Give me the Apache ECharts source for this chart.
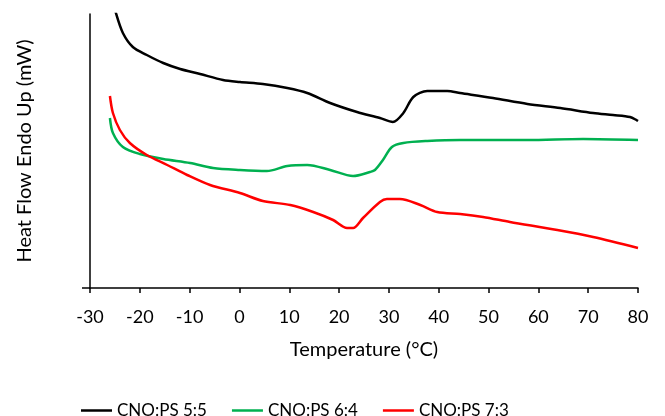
<!DOCTYPE html>
<html>
<head>
<meta charset="utf-8">
<script src="https://cdn.jsdelivr.net/npm/echarts@6/dist/echarts.min.js"></script>
<style>
  html, body { margin: 0; padding: 0; background: #fff; }
  #chart { width: 665px; height: 416px; }
</style>
</head>
<body>
<div id="chart"></div>
<script>
'use strict';
/* DSC curves, heat flow endo up (arbitrary offset units) */

var seriesNames = ['CNO:PS 5:5', 'CNO:PS 6:4', 'CNO:PS 7:3'];
var seriesColors = ['#000000', '#00B050', '#FF0000'];

var ps55 = [
  [-25.6, 292], [-24.8, 275], [-23.4, 255], [-21.4, 241], [-18.6, 233], [-15.3, 225],
  [-11.9, 219], [-7.9, 214], [-3.3, 208], [0.1, 206], [4.7, 204], [9.6, 200],
  [13.6, 195], [18.2, 185], [23.6, 176], [28.2, 170], [30.8, 166], [32.9, 175],
  [34.9, 191], [37.7, 197], [41.7, 197], [44.3, 195], [50.9, 190], [57.8, 184],
  [64.4, 180], [71.0, 175], [75.0, 173], [78.4, 171], [80, 167]
];

var ps64 = [
  [-26.0, 170], [-25.4, 155], [-23.4, 141], [-20.0, 134], [-15.3, 129], [-9.9, 125],
  [-5.3, 120], [0.1, 118], [5.5, 117], [9.6, 122], [13.6, 123], [18.2, 118],
  [22.8, 112], [26.2, 116], [27.2, 118], [28.8, 128], [30.6, 141], [32.9, 145],
  [37.7, 147], [44.3, 148], [57.8, 148], [69.0, 149], [80, 148]
];

var ps73 = [
  [-26.0, 192], [-25.4, 175], [-24.0, 158], [-22.0, 145], [-18.6, 133], [-14.5, 123],
  [-10.5, 113], [-5.9, 103], [0.1, 95], [4.7, 87], [10.2, 83], [14.8, 76],
  [18.8, 68], [21.6, 60], [22.8, 60], [24.8, 70], [28.2, 86], [29.6, 89],
  [32.2, 89], [36.3, 83], [39.7, 76], [44.3, 74], [48.9, 71], [54.3, 66],
  [63.8, 58], [71.0, 51], [80, 40]
];

var xMin = -30, xMax = 80, xStep = 10;
var yMin = 0, yMax = 274;

var font = 'Lato, "Liberation Sans", sans-serif';
var chart = echarts.init(document.getElementById('chart'));

function makeLine(i, data) {
  return {
    name: seriesNames[i],
    type: 'line',
    data: data,
    symbol: 'none',
    smooth: 0.3,
    clip: true,
    lineStyle: { color: seriesColors[i], width: 2.5 },
    itemStyle: { color: seriesColors[i] }
  };
}

var option = {
  animation: false,
  backgroundColor: '#ffffff',
  textStyle: { fontFamily: font },
  grid: { left: 90, right: 27, top: 14, bottom: 128, containLabel: false },
  legend: {
    top: 397,
    left: 76,
    icon: 'rect',
    itemWidth: 31,
    itemHeight: 2.5,
    itemGap: 25,
    textStyle: { fontFamily: font, fontSize: 17, color: '#000' },
    data: seriesNames
  },
  xAxis: {
    type: 'value',
    min: xMin,
    max: xMax,
    interval: xStep,
    name: 'Temperature (°C)',
    nameLocation: 'middle',
    nameGap: 52,
    nameTextStyle: { fontFamily: font, fontSize: 20, color: '#000' },
    splitLine: { show: false },
    axisLine: { onZero: false, lineStyle: { color: '#000', width: 1.5 } },
    axisTick: { length: 5, lineStyle: { color: '#000', width: 1.5 } },
    axisLabel: { fontFamily: font, fontSize: 18, color: '#000', margin: 20 }
  },
  yAxis: {
    type: 'value',
    min: yMin,
    max: yMax,
    name: 'Heat Flow Endo Up (mW)',
    nameLocation: 'middle',
    nameGap: 55,
    nameTextStyle: { fontFamily: font, fontSize: 20, color: '#000' },
    splitLine: { show: false },
    axisLine: { show: true, onZero: false, lineStyle: { color: '#000', width: 1.5 } },
    axisTick: { show: true, customValues: [yMin], length: 8, lineStyle: { color: '#000', width: 1.5 } },
    axisLabel: { show: false }
  },
  series: [makeLine(0, ps55), makeLine(1, ps64), makeLine(2, ps73)]
};

chart.setOption(option);
</script>
</body>
</html>
